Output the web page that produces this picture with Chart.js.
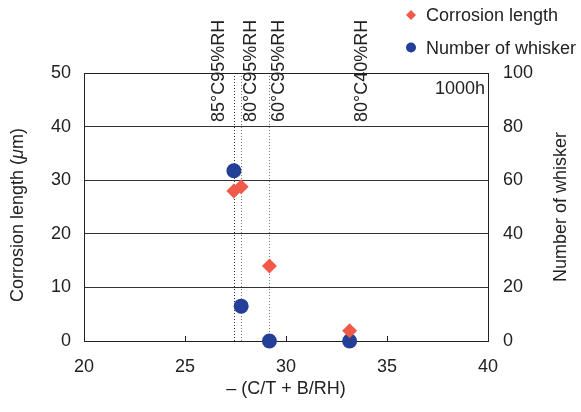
<!DOCTYPE html>
<html>
<head>
<meta charset="UTF-8">
<title>Corrosion length / Number of whisker</title>
<script src="https://cdn.jsdelivr.net/npm/chart.js"></script>
<style>
html,body{margin:0;padding:0;background:#fff;}
#wrap{width:581px;height:412px;}
</style>
<script>
// values
var xValues = [27.42, 27.78, 29.18, 33.15];
var corrosion = [28.0, 28.8, 14.0, 1.9];
var whisker = [63.5, 13.0, 0, 0];
var conditions = ['85°C95%RH', '80°C95%RH', '60°C95%RH', '80°C40%RH'];
var guideX = [27.42, 27.78, 29.18];
var xTicks = [20, 25, 30, 35, 40];
var leftTicks = [0, 10, 20, 30, 40, 50];
var rightTicks = [0, 20, 40, 60, 80, 100];

var FONT = '"Liberation Sans", Arial, sans-serif';
var TXT = '#222';
var RED = '#F15A48';
var BLUE = '#233F98';

window.onload = function(){
	var corrPts = [], whiskPts = [];
	for (var i = 0; i < xValues.length; i++) {
		corrPts.push({x: xValues[i], y: corrosion[i]});
		whiskPts.push({x: xValues[i], y: whisker[i]});
	}

	var extras = {
		id: 'extras',
		beforeDatasetsDraw: function(chart){
			var ctx = chart.ctx, a = chart.chartArea, sx = chart.scales.x;
			ctx.save();
			// dotted guide lines
			ctx.lineWidth = 1;
			ctx.setLineDash([1, 2]);
			guideX.forEach(function(v, i){
				var px = Math.round(sx.getPixelForValue(v)) + 0.5;
				ctx.strokeStyle = i == 0 ? '#333' : '#777';
				ctx.beginPath();
				ctx.moveTo(px, a.top);
				ctx.lineTo(px, a.bottom);
				ctx.stroke();
			});
			ctx.setLineDash([]);
			// top border
			ctx.strokeStyle = '#222';
			ctx.beginPath();
			ctx.moveTo(a.left, a.top + 0.5);
			ctx.lineTo(a.right, a.top + 0.5);
			ctx.stroke();
			// inward ticks on x axis
			xTicks.forEach(function(v){
				var px = Math.round(sx.getPixelForValue(v)) + 0.5;
				ctx.beginPath();
				ctx.moveTo(px, a.bottom);
				ctx.lineTo(px, a.bottom - 5);
				ctx.stroke();
			});
			ctx.restore();
		},
		afterDraw: function(chart){
			var ctx = chart.ctx, a = chart.chartArea, sx = chart.scales.x;
			var offs = [-15, 10, 10, 12];
			ctx.save();
			ctx.fillStyle = TXT;
			ctx.font = '18px ' + FONT;
			// condition labels
			conditions.forEach(function(t, i){
				var px = sx.getPixelForValue(xValues[i]) + offs[i];
				ctx.save();
				ctx.translate(px, a.top + 49);
				ctx.rotate(-Math.PI / 2);
				ctx.textAlign = 'left';
				ctx.textBaseline = 'middle';
				ctx.fillText(t, 0, 0);
				ctx.restore();
			});
			// 1000h
			ctx.textAlign = 'right';
			ctx.textBaseline = 'alphabetic';
			ctx.fillText('1000h', a.right - 3, a.top + 21);
			// x title
			ctx.textAlign = 'center';
			ctx.fillText('\u2013 (C/T + B/RH)', (a.left + a.right) / 2, 394);
			// right title
			ctx.save();
			ctx.translate(566, (a.top + a.bottom) / 2);
			ctx.rotate(-Math.PI / 2);
			ctx.textAlign = 'center';
			ctx.fillText('Number of whisker', 0, 0);
			ctx.restore();
			// left title with italic mu
			ctx.save();
			ctx.translate(23, (a.top + a.bottom) / 2 + 8);
			ctx.rotate(-Math.PI / 2);
			var p1 = 'Corrosion length (', p2 = '\u03bc', p3 = 'm)';
			ctx.font = '18px ' + FONT;
			var w1 = ctx.measureText(p1).width, w3 = ctx.measureText(p3).width;
			ctx.font = 'italic 18px ' + FONT;
			var w2 = ctx.measureText(p2).width;
			var x0 = -(w1 + w2 + w3) / 2;
			ctx.textAlign = 'left';
			ctx.font = '18px ' + FONT;
			ctx.fillText(p1, x0, 0);
			ctx.font = 'italic 18px ' + FONT;
			ctx.fillText(p2, x0 + w1, 0);
			ctx.font = '18px ' + FONT;
			ctx.fillText(p3, x0 + w1 + w2, 0);
			ctx.restore();
			// legend
			ctx.fillStyle = RED;
			ctx.beginPath();
			ctx.moveTo(411, 10); ctx.lineTo(416, 15); ctx.lineTo(411, 20); ctx.lineTo(406, 15);
			ctx.closePath(); ctx.fill();
			ctx.fillStyle = BLUE;
			ctx.beginPath();
			ctx.arc(411, 47.5, 5, 0, Math.PI * 2);
			ctx.fill();
			ctx.fillStyle = TXT;
			ctx.textAlign = 'left';
			ctx.fillText('Corrosion length', 426, 21);
			ctx.fillText('Number of whisker', 426, 54);
			ctx.restore();
		}
	};

	new Chart(document.getElementById('myChart'), {
		type: 'scatter',
		data: {
			datasets: [{
				label: 'Corrosion length',
				data: corrPts,
				yAxisID: 'y',
				pointStyle: 'rectRot',
				pointRadius: 7.5,
				pointHoverRadius: 7.5,
				backgroundColor: RED,
				borderColor: RED,
				borderWidth: 0,
				clip: false
			}, {
				label: 'Number of whisker',
				data: whiskPts,
				yAxisID: 'y1',
				pointStyle: 'circle',
				pointRadius: 7.5,
				pointHoverRadius: 7.5,
				backgroundColor: BLUE,
				borderColor: BLUE,
				borderWidth: 0,
				clip: false
			}]
		},
		options: {
			responsive: false,
			animation: false,
			events: [],
			layout: {padding: {top: 73, left: 0, right: 0, bottom: 0}},
			plugins: {legend: {display: false}, tooltip: {enabled: false}},
			scales: {
				x: {
					type: 'linear', min: 20, max: 40,
					afterBuildTicks: function(s){ s.ticks = xTicks.map(function(v){ return {value: v}; }); },
					afterFit: function(s){ s.height = 71; },
					ticks: {font: {size: 18, family: FONT}, color: TXT, padding: 15, maxRotation: 0},
					grid: {drawOnChartArea: false, drawTicks: false},
					border: {color: '#222', width: 1}
				},
				y: {
					position: 'left', min: 0, max: 50,
					afterBuildTicks: function(s){ s.ticks = leftTicks.map(function(v){ return {value: v}; }); },
					afterFit: function(s){ s.width = 84; },
					ticks: {font: {size: 18, family: FONT}, color: TXT, padding: 13},
					grid: {color: '#333', drawTicks: false},
					border: {color: '#222', width: 1}
				},
				y1: {
					position: 'right', min: 0, max: 100,
					afterBuildTicks: function(s){ s.ticks = rightTicks.map(function(v){ return {value: v}; }); },
					afterFit: function(s){ s.width = 93; },
					ticks: {font: {size: 18, family: FONT}, color: TXT, padding: 15},
					grid: {drawOnChartArea: false, drawTicks: false},
					border: {color: '#222', width: 1}
				}
			}
		},
		plugins: [extras]
	});
};
</script>
</head>
<body>
<div id="wrap"><canvas id="myChart" width="581" height="412"></canvas></div>
</body>
</html>
